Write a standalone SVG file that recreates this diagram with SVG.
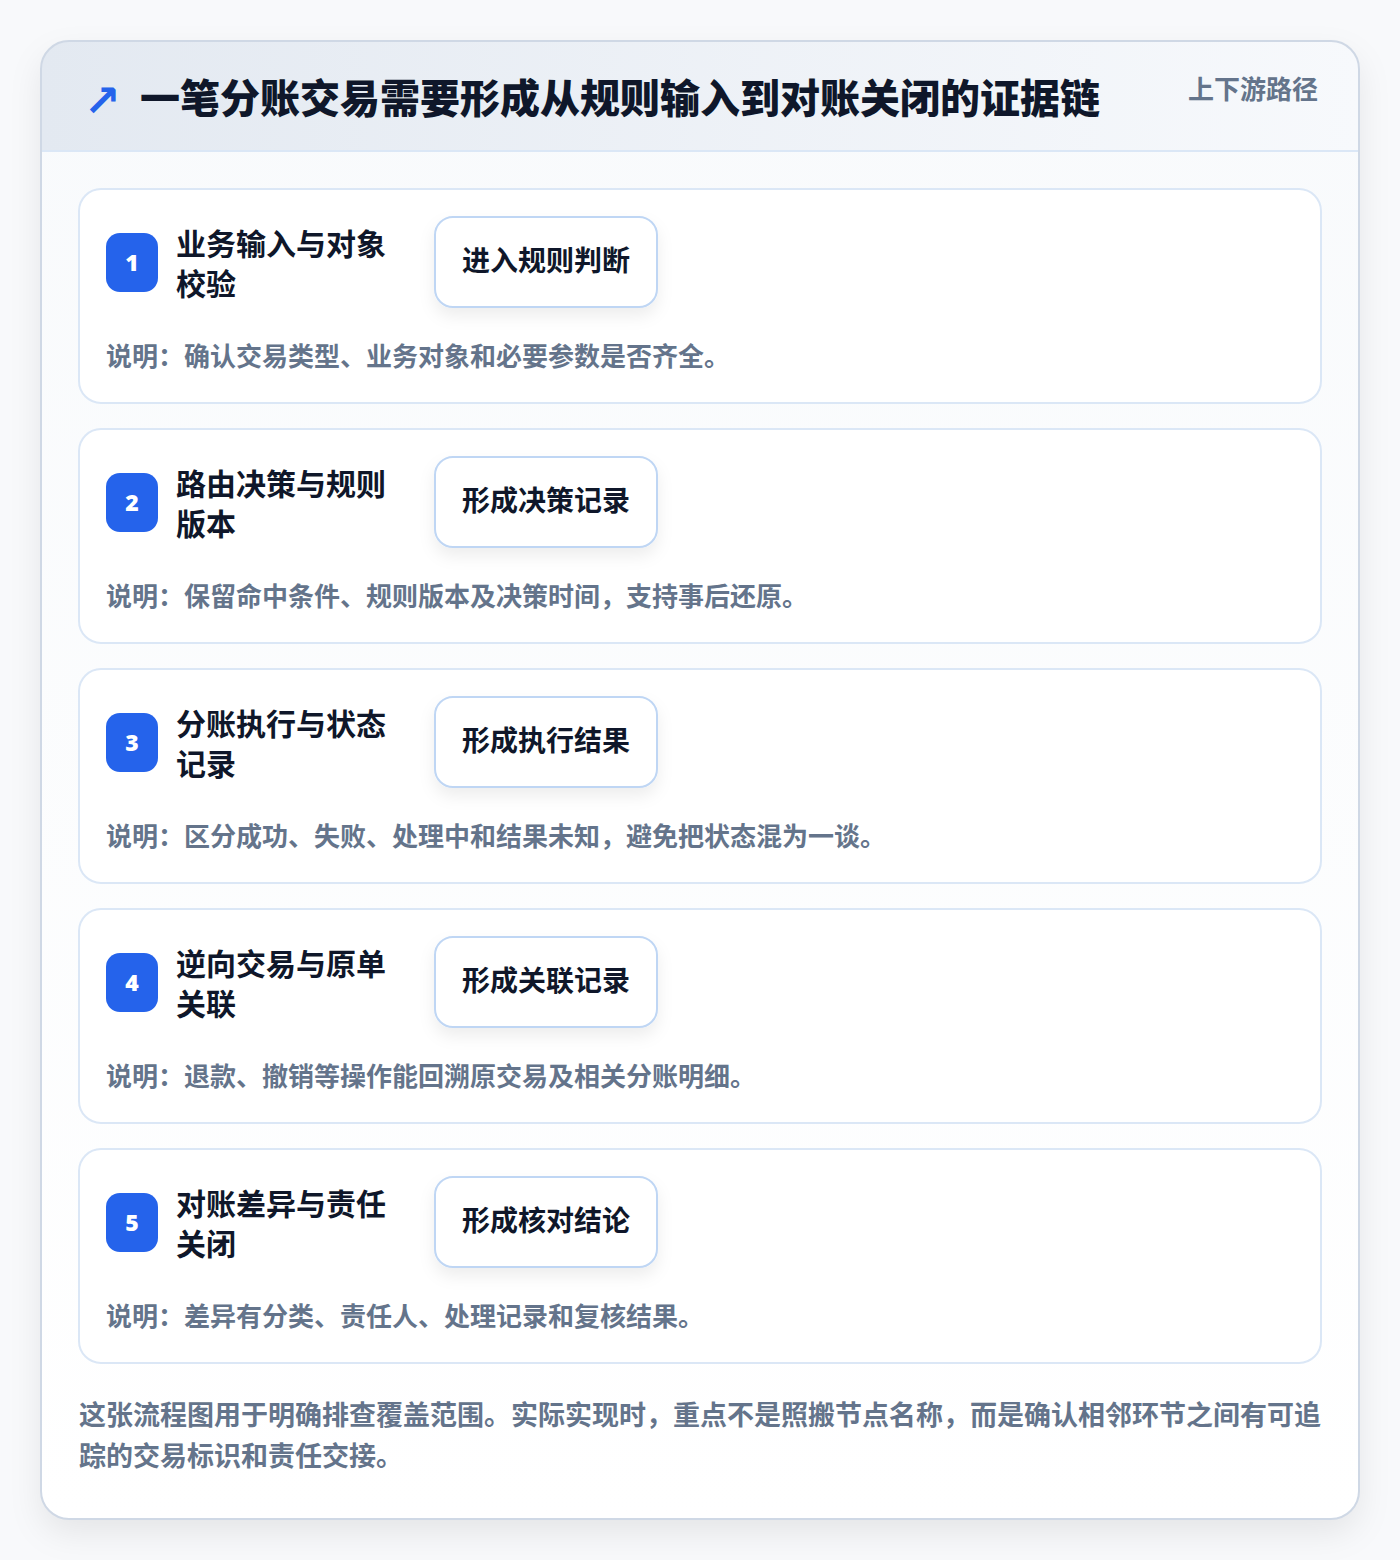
<svg xmlns="http://www.w3.org/2000/svg" width="1400" height="1560" viewBox="0 0 1400 1560">
<defs>
<linearGradient id="hdr" x1="0" y1="0" x2="1" y2="0">
<stop offset="0" stop-color="#e3e9f1"/>
<stop offset="1" stop-color="#f7f9fc"/>
</linearGradient>
<linearGradient id="body" x1="0" y1="0" x2="0" y2="1">
<stop offset="0" stop-color="#f8fafc"/>
<stop offset="1" stop-color="#ffffff"/>
</linearGradient>
<filter id="outerShadow" x="-10%" y="-10%" width="120%" height="120%">
<feDropShadow dx="0" dy="14" stdDeviation="16" flood-color="#0f172a" flood-opacity="0.08"/>
</filter>
<filter id="pillShadow" x="-20%" y="-20%" width="140%" height="160%">
<feDropShadow dx="0" dy="8" stdDeviation="8" flood-color="#0f172a" flood-opacity="0.07"/>
</filter>
<clipPath id="outerClip"><rect x="41" y="41" width="1318" height="1478" rx="28"/></clipPath>
</defs>
<style>
.title{font-family:"Noto Sans CJK SC","Noto Sans",sans-serif;font-weight:900;font-size:40px;fill:#0f172a}
.tag{font-family:"Noto Sans CJK SC","Noto Sans",sans-serif;font-weight:700;font-size:26px;fill:#64748b}
.card{fill:#ffffff;stroke:#dbe7f6;stroke-width:2}
.badge{fill:#2563eb}
.num{font-family:"Noto Sans","Noto Sans CJK SC",sans-serif;font-weight:900;font-size:23px;fill:#ffffff;text-anchor:middle}
.label{font-family:"Noto Sans CJK SC","Noto Sans",sans-serif;font-weight:700;font-size:30px;fill:#0f172a}
.pill{fill:#ffffff;stroke:#bfd6f4;stroke-width:2}
.pilltext{font-family:"Noto Sans CJK SC","Noto Sans",sans-serif;font-weight:700;font-size:28px;fill:#0f172a;text-anchor:middle}
.desc{font-family:"Noto Sans CJK SC","Noto Sans",sans-serif;font-weight:700;font-size:26px;fill:#64748b}
.foot{font-family:"Noto Sans CJK SC","Noto Sans",sans-serif;font-weight:700;font-size:27px;fill:#64748b}
</style>
<rect x="0" y="0" width="1400" height="1560" fill="#f8f9fb"/>
<g id="frame">
<rect x="41" y="41" width="1318" height="1478" rx="28" fill="url(#body)" filter="url(#outerShadow)"/>
<g clip-path="url(#outerClip)">
<rect x="41" y="41" width="1318" height="110" fill="url(#hdr)"/>
</g>
<line x1="42" y1="151" x2="1358" y2="151" stroke="#dbe7f6" stroke-width="2"/>
<rect x="41" y="41" width="1318" height="1478" rx="28" fill="none" stroke="#cfd8e5" stroke-width="2"/>
</g>
<g id="header">
<text x="84" y="116" font-family="DejaVu Sans,sans-serif" font-size="44" font-weight="700" fill="#2563eb">↗</text>
<text class="title" x="140" y="113">一笔分账交易需要形成从规则输入到对账关闭的证据链</text>
<text class="tag" x="1318" y="99" text-anchor="end">上下游路径</text>
</g>
<g id="connectors"></g>
<g id="step1">
<rect class="card" x="79" y="189" width="1242" height="214" rx="22"/>
<rect class="badge" x="106" y="233" width="52" height="59" rx="14"/>
<text class="num" x="132" y="271">1</text>
<text class="label" x="176" y="255">业务输入与对象</text>
<text class="label" x="176" y="295">校验</text>
<rect class="pill" x="435" y="217" width="222" height="90" rx="18" filter="url(#pillShadow)"/>
<text class="pilltext" x="546" y="271">进入规则判断</text>
<text class="desc" x="106" y="366">说明：确认交易类型、业务对象和必要参数是否齐全。</text>
</g>
<g id="step2">
<rect class="card" x="79" y="429" width="1242" height="214" rx="22"/>
<rect class="badge" x="106" y="473" width="52" height="59" rx="14"/>
<text class="num" x="132" y="511">2</text>
<text class="label" x="176" y="495">路由决策与规则</text>
<text class="label" x="176" y="535">版本</text>
<rect class="pill" x="435" y="457" width="222" height="90" rx="18" filter="url(#pillShadow)"/>
<text class="pilltext" x="546" y="511">形成决策记录</text>
<text class="desc" x="106" y="606">说明：保留命中条件、规则版本及决策时间，支持事后还原。</text>
</g>
<g id="step3">
<rect class="card" x="79" y="669" width="1242" height="214" rx="22"/>
<rect class="badge" x="106" y="713" width="52" height="59" rx="14"/>
<text class="num" x="132" y="751">3</text>
<text class="label" x="176" y="735">分账执行与状态</text>
<text class="label" x="176" y="775">记录</text>
<rect class="pill" x="435" y="697" width="222" height="90" rx="18" filter="url(#pillShadow)"/>
<text class="pilltext" x="546" y="751">形成执行结果</text>
<text class="desc" x="106" y="846">说明：区分成功、失败、处理中和结果未知，避免把状态混为一谈。</text>
</g>
<g id="step4">
<rect class="card" x="79" y="909" width="1242" height="214" rx="22"/>
<rect class="badge" x="106" y="953" width="52" height="59" rx="14"/>
<text class="num" x="132" y="991">4</text>
<text class="label" x="176" y="975">逆向交易与原单</text>
<text class="label" x="176" y="1015">关联</text>
<rect class="pill" x="435" y="937" width="222" height="90" rx="18" filter="url(#pillShadow)"/>
<text class="pilltext" x="546" y="991">形成关联记录</text>
<text class="desc" x="106" y="1086">说明：退款、撤销等操作能回溯原交易及相关分账明细。</text>
</g>
<g id="step5">
<rect class="card" x="79" y="1149" width="1242" height="214" rx="22"/>
<rect class="badge" x="106" y="1193" width="52" height="59" rx="14"/>
<text class="num" x="132" y="1231">5</text>
<text class="label" x="176" y="1215">对账差异与责任</text>
<text class="label" x="176" y="1255">关闭</text>
<rect class="pill" x="435" y="1177" width="222" height="90" rx="18" filter="url(#pillShadow)"/>
<text class="pilltext" x="546" y="1231">形成核对结论</text>
<text class="desc" x="106" y="1326">说明：差异有分类、责任人、处理记录和复核结果。</text>
</g>
<g id="footer">
<text class="foot" x="79" y="1425">这张流程图用于明确排查覆盖范围。实际实现时，重点不是照搬节点名称，而是确认相邻环节之间有可追</text>
<text class="foot" x="79" y="1466">踪的交易标识和责任交接。</text>
</g>
</svg>
